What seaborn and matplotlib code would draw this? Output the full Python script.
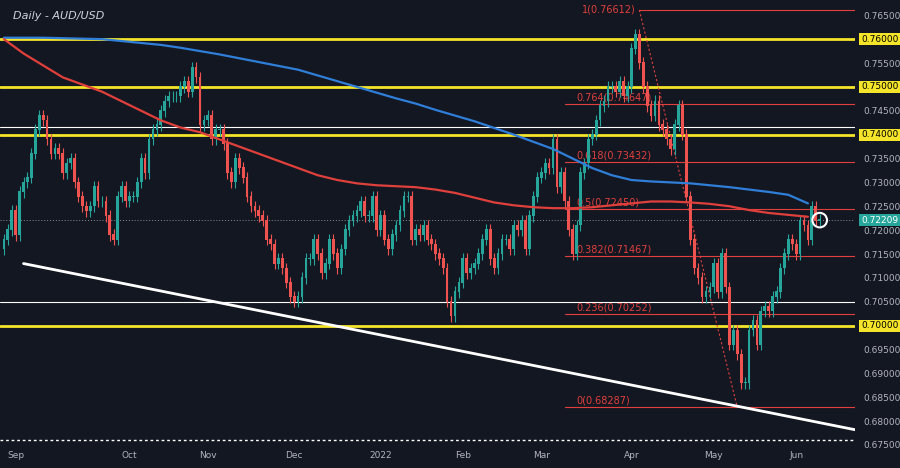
import matplotlib
matplotlib.use("Agg")
import matplotlib.pyplot as plt
import numpy as np
import pandas as pd
import seaborn as sns

# cierres diarios (aprox.) desde 23-ago-2021
closes = [
    0.7180, 0.7200, 0.7240, 0.7190, 0.7280, 0.7300, 0.7310, 0.7360, 0.7410, 0.7440,
    0.7430, 0.7390, 0.7360, 0.7370, 0.7360, 0.7320, 0.7340, 0.7350, 0.7300, 0.7270,
    0.7250, 0.7240, 0.7250, 0.7290, 0.7260, 0.7260, 0.7230, 0.7190, 0.7180, 0.7270,
    0.7290, 0.7260, 0.7270, 0.7270, 0.7300, 0.7350, 0.7320, 0.7390, 0.7410, 0.7420,
    0.7450, 0.7470, 0.7480, 0.7480, 0.7480, 0.7500, 0.7510, 0.7490, 0.7540, 0.7520,
    0.7420, 0.7430, 0.7440, 0.7390, 0.7410, 0.7410, 0.7380, 0.7320, 0.7300, 0.7350,
    0.7330, 0.7310, 0.7270, 0.7250, 0.7240, 0.7230, 0.7220, 0.7180, 0.7170, 0.7130,
    0.7140, 0.7120, 0.7090, 0.7060, 0.7050, 0.7060, 0.7100, 0.7140, 0.7140, 0.7180,
    0.7150, 0.7110, 0.7130, 0.7180, 0.7150, 0.7120, 0.7160, 0.7200, 0.7220, 0.7230,
    0.7240, 0.7260, 0.7230, 0.7230, 0.7270, 0.7200, 0.7230, 0.7180, 0.7160, 0.7190,
    0.7210, 0.7240, 0.7270, 0.7270, 0.7180, 0.7200, 0.7190, 0.7210, 0.7180, 0.7170,
    0.7150, 0.7140, 0.7120, 0.7050, 0.7020, 0.7070, 0.7090, 0.7140, 0.7110, 0.7120,
    0.7130, 0.7150, 0.7180, 0.7200, 0.7140, 0.7120, 0.7150, 0.7180, 0.7180, 0.7160,
    0.7210, 0.7200, 0.7220, 0.7160, 0.7230, 0.7270, 0.7310, 0.7320, 0.7340, 0.7330,
    0.7390, 0.7290, 0.7320, 0.7260, 0.7200, 0.7150, 0.7210, 0.7320, 0.7340, 0.7390,
    0.7400, 0.7430, 0.7460, 0.7470, 0.7500, 0.7500, 0.7490, 0.7510, 0.7480, 0.7500,
    0.7580, 0.7610, 0.7550, 0.7500, 0.7460, 0.7440, 0.7470, 0.7420, 0.7410, 0.7390,
    0.7370, 0.7420, 0.7460, 0.7400, 0.7270, 0.7180, 0.7120, 0.7100, 0.7060, 0.7070,
    0.7080, 0.7130, 0.7070, 0.7150, 0.7080, 0.6960, 0.6990, 0.6940, 0.6880, 0.6880,
    0.6990, 0.7010, 0.6960, 0.7030, 0.7040, 0.7030, 0.7060, 0.7070, 0.7120, 0.7150,
    0.7180, 0.7170, 0.7150, 0.7220, 0.7210, 0.7180, 0.7250, 0.7220, 0.7221,
]
first_open = 0.7160

# medias moviles, un valor por semana
sma200 = [0.7603, 0.7603, 0.7603, 0.7602, 0.7601, 0.7600, 0.7596, 0.7592, 0.7588, 0.7582,
          0.7575, 0.7568, 0.7560, 0.7552, 0.7544, 0.7536, 0.7524, 0.7512, 0.7500, 0.7488,
          0.7476, 0.7465, 0.7452, 0.7440, 0.7428, 0.7414, 0.7400, 0.7385, 0.7370, 0.7350,
          0.7330, 0.7315, 0.7305, 0.7302, 0.7300, 0.7298, 0.7294, 0.7290, 0.7285, 0.7280,
          0.7274, 0.7256]
sma100 = [0.7600, 0.7570, 0.7545, 0.7520, 0.7505, 0.7490, 0.7470, 0.7450, 0.7430, 0.7415,
          0.7405, 0.7390, 0.7375, 0.7360, 0.7345, 0.7330, 0.7315, 0.7305, 0.7298, 0.7294,
          0.7292, 0.7290, 0.7285, 0.7278, 0.7268, 0.7258, 0.7252, 0.7248, 0.7246, 0.7246,
          0.7248, 0.7252, 0.7256, 0.7260, 0.7260, 0.7258, 0.7255, 0.7250, 0.7242, 0.7236,
          0.7232, 0.7228]

yellow_levels = [0.7600, 0.7500, 0.7400, 0.7000]
white_levels = [0.7050, 0.6760]
y_ticks = [0.6750, 0.6800, 0.6850, 0.6900, 0.6950, 0.7050, 0.7100, 0.7150, 0.7200,
           0.7250, 0.7300, 0.7350, 0.7450, 0.7550, 0.7650]
fib_ratios = ["1", "0.764", "0.618", "0.5", "0.382", "0.236", "0"]
fib_prices = [0.76612, 0.74647, 0.73432, 0.72450, 0.71467, 0.70252, 0.68287]
trend_x = [5, 217]
trend_y = [0.7130, 0.6782]
month_labels = ["Sep", "Oct", "Nov", "Dec", "2022", "Feb", "Mar", "Apr", "May", "Jun"]
month_pos = [3, 32, 52, 74, 96, 117, 137, 160, 181, 202]

BG = "#131722"
UP, DOWN = "#26a69a", "#ef5350"

opens = [first_open] + closes[:-1]
df = pd.DataFrame({"i": np.arange(len(closes)), "open": opens, "close": closes})
df["lo"] = df[["open", "close"]].min(axis=1)
df["hi"] = df[["open", "close"]].max(axis=1)
df["color"] = np.where(df["close"] >= df["open"], UP, DOWN)

sns.set_theme(style="dark", rc={"axes.facecolor": BG, "figure.facecolor": BG})
fig = plt.figure(figsize=(9, 4.68), dpi=100)
ax = fig.add_axes([0, 23 / 468, 855 / 900, 445 / 468])

# lineas horizontales
for p in yellow_levels:
    ax.axhline(p, color="#f5e52a", lw=2, zorder=1)
ax.axhline(0.7415, color="white", lw=0.8, zorder=1)
ax.axhline(white_levels[0], color="white", lw=0.8, zorder=1)
ax.axhline(white_levels[1], color="white", lw=1, ls=(0, (2, 2)), zorder=1)
ax.axhline(closes[-1], color="#8a8f9c", lw=0.7, ls=(0, (1, 2)), zorder=1)

# fibonacci
for r, p in zip(fib_ratios, fib_prices):
    if r == "1":
        ax.plot([162, 220], [p, p], color="#e0403c", lw=0.8, zorder=1)
        ax.text(161, p, f"{r}({p:.5f})", color="#e0403c", fontsize=7, ha="right",
                va="center", zorder=2)
    else:
        ax.plot([143, 220], [p, p], color="#e0403c", lw=0.8, zorder=1)
        ax.text(146, p + 0.0003, f"{r}({p:.5f})", color="#e0403c", fontsize=7,
                va="bottom", zorder=2)
ax.plot([162, 187], [0.76612, 0.68287], color="#e0403c", lw=0.8, ls=(0, (2, 2)), zorder=1)

# velas
ax.vlines(df["i"], df["lo"] - 0.0012, df["hi"] + 0.0012, colors=df["color"], lw=0.8, zorder=3)
ax.bar(df["i"], df["hi"] - df["lo"] + 0.00015, bottom=df["lo"], width=0.7,
       color=df["color"], edgecolor="none", linewidth=0, zorder=4)

# medias
wk = np.arange(len(sma200)) * 5
sns.lineplot(x=wk, y=sma200, color="#2f7ed8", lw=1.6, ax=ax, zorder=5)
sns.lineplot(x=wk, y=sma100, color="#e0403c", lw=1.6, ax=ax, zorder=5)

ax.plot(trend_x, trend_y, color="white", lw=2, zorder=5)
ax.scatter([len(closes) - 1], [0.7221], s=110, facecolors="none", edgecolors="white",
           lw=1.5, zorder=6)

ax.set_xlim(-1, 217)
ax.set_ylim(0.6754, 0.7682)
ax.yaxis.tick_right()
ax.set_yticks(y_ticks)
ax.yaxis.set_major_formatter(matplotlib.ticker.FormatStrFormatter("%.5f"))
ax.set_xticks(month_pos)
ax.set_xticklabels(month_labels)
ax.tick_params(colors="#b2b5be", labelsize=6.5, length=0, pad=4)
ax.tick_params(axis="y", pad=6)
for s in ax.spines.values():
    s.set_visible(False)
ax.grid(False)

for p in yellow_levels:
    ax.text(1.007, p, f"{p:.5f}", transform=ax.get_yaxis_transform(), fontsize=6.5,
            color="black", va="center", zorder=10,
            bbox=dict(fc="#f5e52a", ec="none", pad=1.2))
ax.text(1.007, closes[-1], f"{closes[-1] - 0.00001:.5f}", transform=ax.get_yaxis_transform(),
        fontsize=6.5, color="white", va="center", zorder=10,
        bbox=dict(fc="#26a69a", ec="none", pad=1.2))

ax.text(0.015, 0.975, "Daily - AUD/USD", transform=ax.transAxes, color="#d1d4dc",
        fontsize=8, style="italic", va="top")

fig.savefig("out.png", dpi=100, facecolor=BG)
